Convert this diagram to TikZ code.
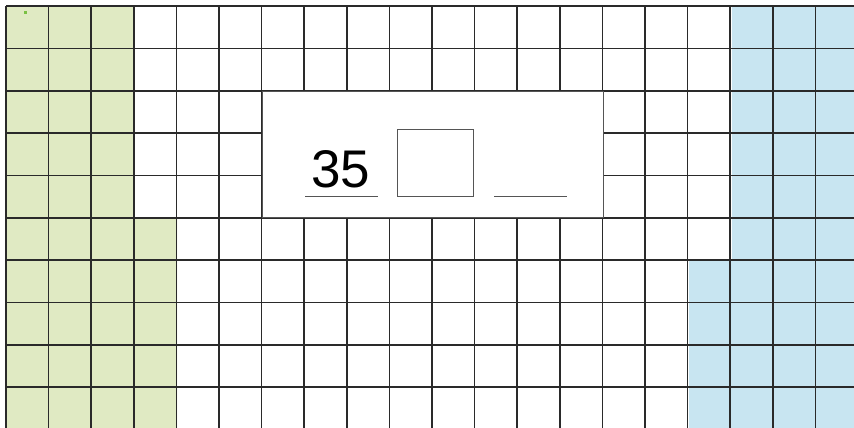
\documentclass[tikz,border=0pt]{standalone}
\usepackage{fontspec}
\setmainfont{Liberation Sans}
\definecolor{gfill}{HTML}{E0EAC3}
\definecolor{bfill}{HTML}{C8E5F1}
\definecolor{gline}{HTML}{2A2A2A}
\definecolor{boxline}{HTML}{555555}
\definecolor{dotg}{HTML}{7AC143}
\tikzset{
  gridline/.style={draw=gline, line width=1.6pt},
  panel/.style={draw=boxline, fill=white, line width=1.1pt},
  answerbox/.style={draw=boxline, line width=1.1pt},
  blank/.style={draw=boxline, line width=1pt},
}
\begin{document}
\begin{tikzpicture}[x=1pt,y=-1pt]
\useasboundingbox (0,0) rectangle (854,428);
\fill[white] (0,0) rectangle (854,428);
% coloured regions
\fill[gfill] (6,6) -- (134,6) -- (134,218) -- (177,218) -- (177,428) -- (6,428) -- cycle;
\fill[bfill] (732,6) -- (854,6) -- (854,428) -- (689,428) -- (689,261) -- (732,261) -- cycle;
\fill[dotg] (23.5,11.5) rectangle (26.5,14.5);
% grid
\foreach \i in {0,...,19} {
  \draw[gridline] ({6+42.6*\i},6) -- ({6+42.6*\i},428);
}
\foreach \j in {0,...,9} {
  \draw[gridline] (6,{6+42.35*\j}) -- (854,{6+42.35*\j});
}
% central panel
\node[panel, minimum width=341pt, minimum height=126pt, inner sep=0pt, anchor=north west] (panel) at (262,91) {};
\node[font=\fontsize{53}{53}\selectfont, anchor=base, inner sep=0pt] (num) at (341,187) {35};
\node[answerbox, minimum width=76pt, minimum height=67pt, inner sep=0pt, anchor=north west] (ans) at (397,129) {};
\coordinate (u1a) at (305,196);
\coordinate (u1b) at (378,196);
\coordinate (u2a) at (494,196);
\coordinate (u2b) at (567,196);
\draw[blank] (u1a) -- (u1b);
\draw[blank] (u2a) -- (u2b);
\end{tikzpicture}
\end{document}
